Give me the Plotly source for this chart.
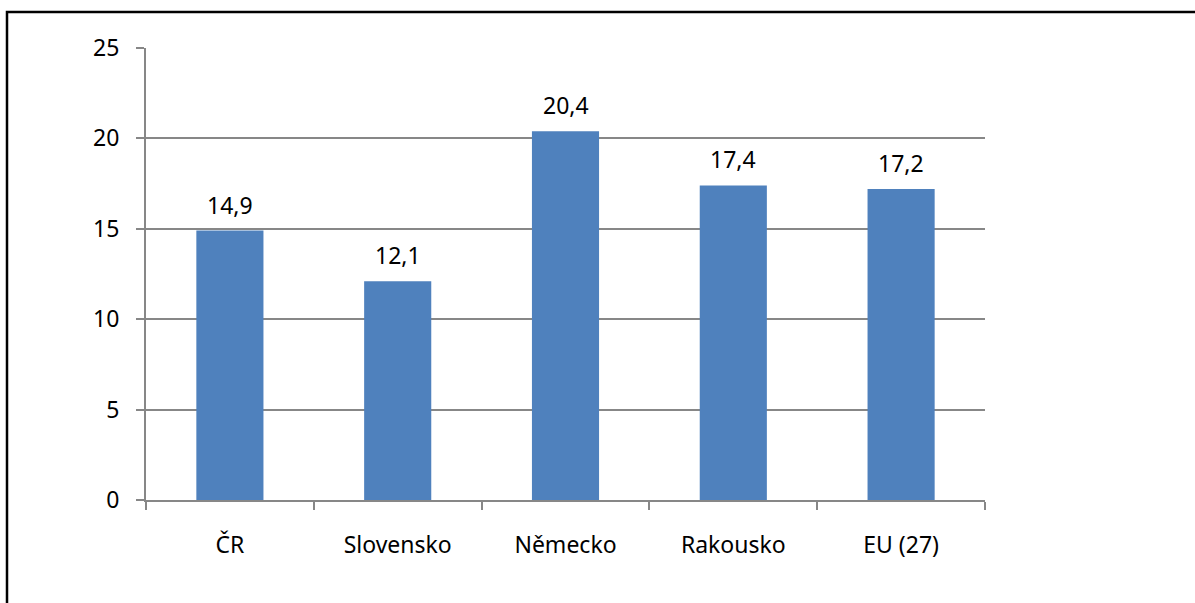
import plotly.graph_objects as go

categories = ["ČR", "Slovensko", "Německo", "Rakousko", "EU (27)"]
values = [14.9, 12.1, 20.4, 17.4, 17.2]
y_ticks = [0, 5, 10, 15, 20, 25]

W, H = 1195, 603
L, R, T, B = 146, 210, 48, 103
pw, ph = W - L - R, H - T - B

FONT = "Noto Sans, Liberation Sans, sans-serif"
GRID = "#878787"
FS = 23

fig = go.Figure()
fig.add_trace(go.Bar(
    x=categories, y=values,
    marker=dict(color="#4F81BD", line=dict(width=0)),
    width=0.4,
    hoverinfo="skip",
))

for c, v in zip(categories, values):
    fig.add_annotation(
        x=c, y=v, text=f"{v:.1f}".replace(".", ","),
        showarrow=False, yanchor="bottom", yshift=8,
        font=dict(family=FONT, size=FS, color="#000000"),
    )

# outer chart frame (extends beyond visible page at right/bottom)
fig.add_shape(
    type="rect", xref="paper", yref="paper",
    x0=(7 - L) / pw, x1=(W + 20 - L) / pw,
    y0=(H - B - (H + 20)) / ph, y1=(H - B - 12) / ph,
    line=dict(color="#000000", width=2.5), fillcolor="rgba(0,0,0,0)",
    layer="above",
)

fig.update_layout(
    width=W, height=H,
    margin=dict(l=L, r=R, t=T, b=B, pad=0),
    paper_bgcolor="white", plot_bgcolor="white",
    showlegend=False,
    bargap=0.6,
    font=dict(family=FONT, size=FS, color="#000000"),
    xaxis=dict(
        type="category",
        showgrid=False,
        showline=True, linecolor=GRID, linewidth=2,
        ticks="outside", ticklen=8, tickcolor=GRID, tickwidth=2,
        tickson="boundaries",
        tickfont=dict(family=FONT, size=FS, color="#000000"),
        ticklabelstandoff=23,
        fixedrange=True,
    ),
    yaxis=dict(
        range=[0, 25],
        tickvals=y_ticks,
        showgrid=True, gridcolor=GRID, gridwidth=2,
        showline=True, linecolor=GRID, linewidth=2,
        ticks="outside", ticklen=8, tickcolor=GRID, tickwidth=2,
        tickfont=dict(family=FONT, size=FS, color="#000000"),
        ticklabelstandoff=12,
        zeroline=False,
        fixedrange=True,
    ),
)

fig.write_html(
    "out.html",
    config={"displayModeBar": False},
    post_script="document.body.style.margin='0';",
)
